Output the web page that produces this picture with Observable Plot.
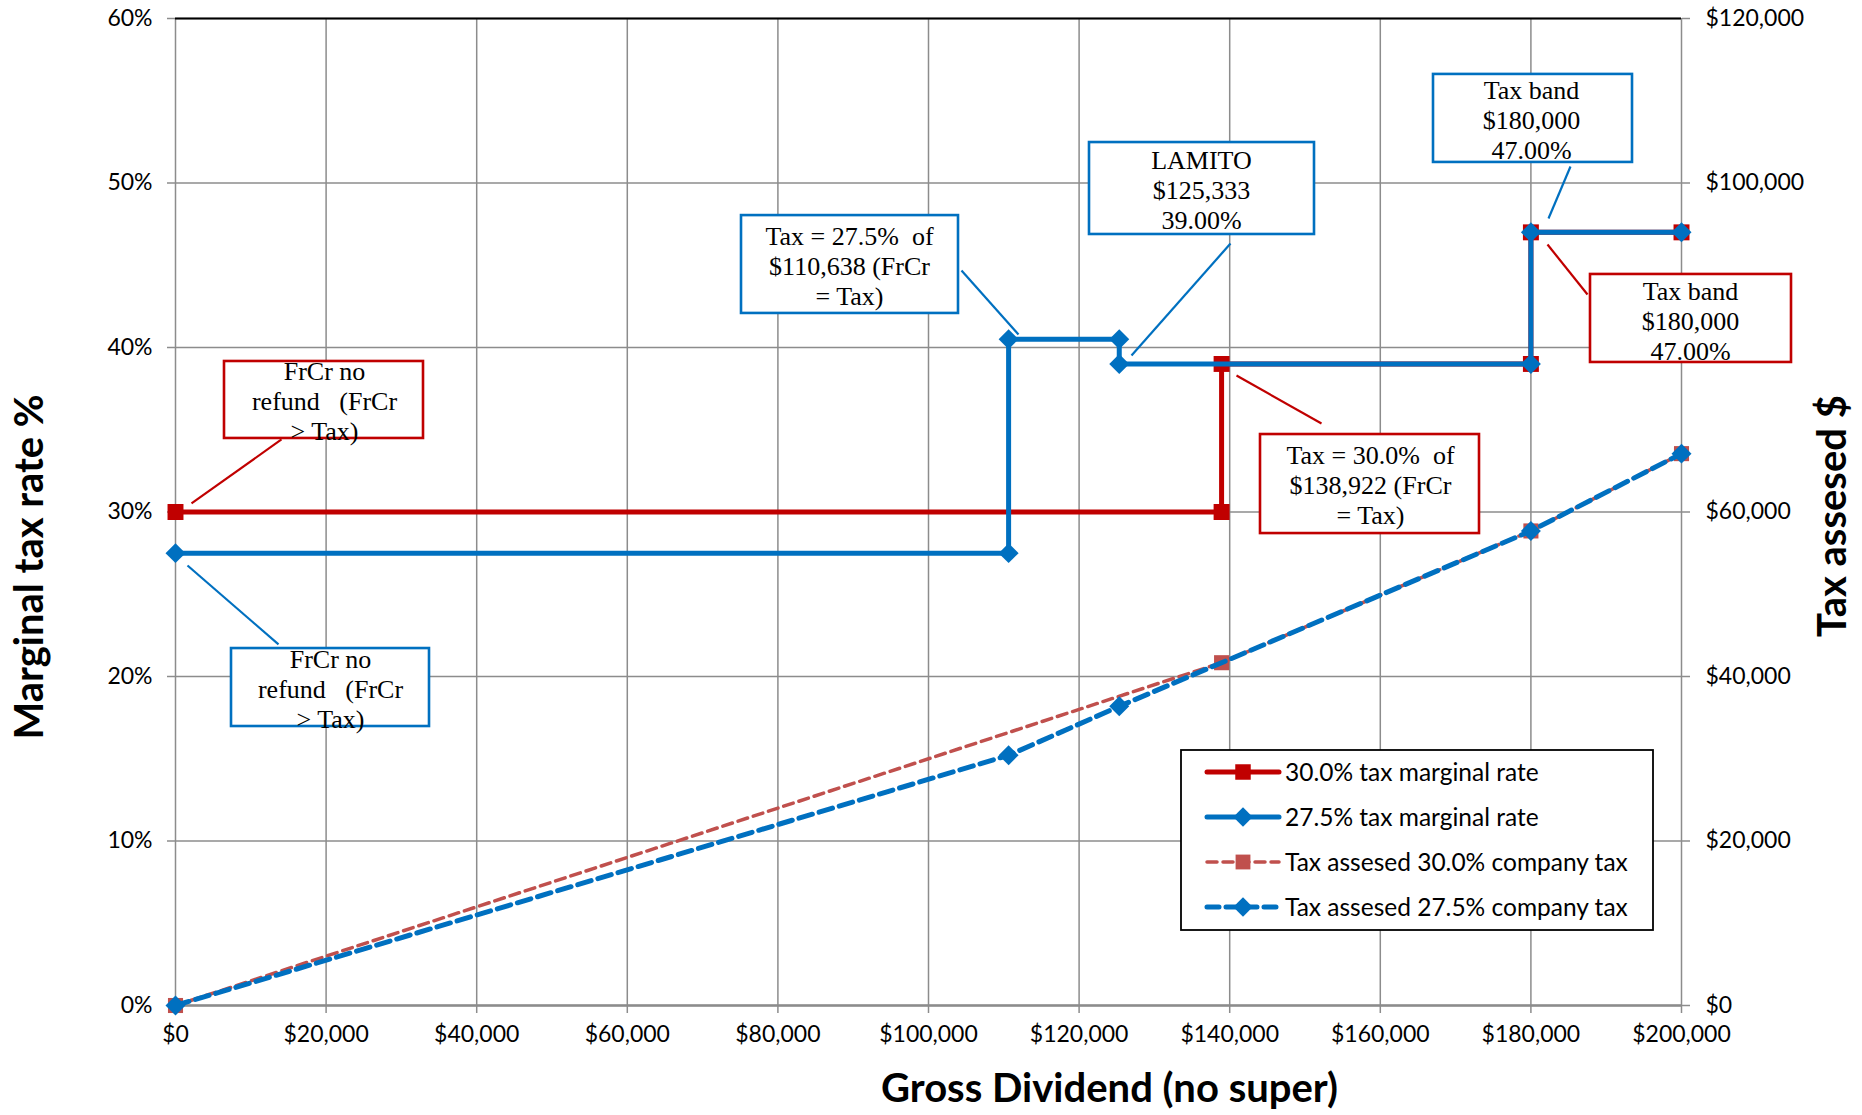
<!DOCTYPE html>
<html><head><meta charset="utf-8">
<script src="https://cdn.jsdelivr.net/npm/d3@7"></script>
<script src="https://cdn.jsdelivr.net/npm/@observablehq/plot@0.6"></script>
<style>
html,body{margin:0;padding:0;background:#fff;}
#chart{width:1862px;height:1115px;position:relative;}
svg text{white-space:pre;}
</style></head><body><div id="chart"></div>
<script>
// ---- tick values ----
const xTicks = [0, 20000, 40000, 60000, 80000, 100000, 120000, 140000, 160000, 180000, 200000];
const leftTicks = [0, 0.1, 0.2, 0.3, 0.4, 0.5, 0.6];
const rightMax = 120000;
// right-axis labels visible in the picture ($80,000 is hidden behind a callout box)
const rightTicks = [0, 20000, 40000, 60000, 100000, 120000];

// ---- series: marginal rates (left axis) ----
const marg30X = [0, 138922, 138922, 180000, 180000, 200000];
const marg30Y = [0.30, 0.30, 0.39, 0.39, 0.47, 0.47];
const marg275X = [0, 110638, 110638, 125333, 125333, 180000, 180000, 200000];
const marg275Y = [0.275, 0.275, 0.405, 0.405, 0.39, 0.39, 0.47, 0.47];

// ---- series: tax assessed in $ (right axis) ----
const tax30X = [0, 138922, 180000, 200000];
const tax30Y = [0, 41677, 57697, 67097];
const tax275X = [0, 110638, 125333, 180000, 200000];
const tax275Y = [0, 30425, 36376, 57697, 67097];

const seriesNames = ["30.0% tax marginal rate", "27.5% tax marginal rate",
  "Tax assesed 30.0% company tax", "Tax assesed 27.5% company tax"];

// ---- annotation texts ----
const annTexts = [
  "FrCr no\nrefund\u00A0\u00A0 (FrCr\n> Tax)",
  "FrCr no\nrefund\u00A0\u00A0 (FrCr\n> Tax)",
  "Tax = 27.5%\u00A0 of\n$110,638 (FrCr\n= Tax)",
  "LAMITO\n$125,333\n39.00%",
  "Tax = 30.0%\u00A0 of\n$138,922 (FrCr\n= Tax)",
  "Tax band\n$180,000\n47.00%",
  "Tax band\n$180,000\n47.00%"
];
const annSeries = [0, 1, 1, 1, 0, 1, 0];

// ---- annotation layout (data units) ----
const annBoxX1 = [6507, 7437, 75166, 121381, 144090, 167065, 187915];
const annBoxX2 = [32935, 33732, 103984, 151262, 173174, 193493, 214608];
const annBoxY1 = [0.3447, 0.1696, 0.4207, 0.4687, 0.2869, 0.5125, 0.3909];
const annBoxY2 = [0.3915, 0.2170, 0.4802, 0.5246, 0.3471, 0.5660, 0.4444];
const annTextX = [19788, 20584, 89509, 136255, 158699, 180080, 201195];
const annTextY = [0.3678, 0.1927, 0.4498, 0.4960, 0.3167, 0.5386, 0.4164];
const annLineX1 = [2125, 1594, 104382, 140106, 140903, 185259, 182205];
const annLineY1 = [0.3052, 0.2675, 0.4468, 0.4632, 0.3830, 0.5100, 0.4626];
const annLineX2 = [14077, 13679, 111952, 126959, 152191, 182337, 187517];
const annLineY2 = [0.3441, 0.2195, 0.4079, 0.3951, 0.3538, 0.4784, 0.4322];

// ---- build tables ----
const RED = "#C00000", BLUE = "#0070C0", LRED = "#C0504D", GRID = "#8c8c8c";
const ratio = rightMax / leftTicks[leftTicks.length - 1];
const zip = (xs, ys) => xs.map((x, i) => ({x, y: ys[i]}));
const m30 = zip(marg30X, marg30Y);
const m275 = zip(marg275X, marg275Y);
const t30 = zip(tax30X, tax30Y.map(v => v / ratio));
const t275 = zip(tax275X, tax275Y.map(v => v / ratio));
const ann = annTexts.map((t, i) => ({
  text: t, color: annSeries[i] === 0 ? RED : BLUE,
  bx1: annBoxX1[i], bx2: annBoxX2[i], by1: annBoxY1[i], by2: annBoxY2[i],
  tx: annTextX[i], ty: annTextY[i],
  lx1: annLineX1[i], ly1: annLineY1[i], lx2: annLineX2[i], ly2: annLineY2[i]
}));
const fmt = d3.format(",");

const plot = Plot.plot({
  width: 1862, height: 1115,
  marginLeft: 175, marginRight: 181, marginTop: 18, marginBottom: 110,
  style: {fontFamily: "Lato, sans-serif", fontSize: "23px", background: "#fff", overflow: "visible"},
  x: {domain: [0, 200000], axis: null},
  y: {domain: [0, 0.6], axis: null},
  marks: [
    Plot.ruleX(xTicks, {stroke: GRID, strokeWidth: 1.5}),
    Plot.ruleY(leftTicks, {stroke: GRID, strokeWidth: 1.5}),
    Plot.ruleY([0], {stroke: GRID, strokeWidth: 2.5}),
    Plot.ruleY([0.6], {stroke: "#000", strokeWidth: 2}),
    Plot.axisY({anchor: "left", ticks: leftTicks, tickFormat: d => Math.round(d * 100) + "%",
      tickSize: 8, tickPadding: 15, stroke: GRID, strokeWidth: 1.5, fill: "#000", fontSize: 23, label: null}),
    Plot.axisY({anchor: "right", ticks: rightTicks.map(v => v / ratio), tickFormat: d => "$" + fmt(Math.round(d * ratio)),
      tickSize: 8, tickPadding: 16, stroke: GRID, strokeWidth: 1.5, fill: "#000", fontSize: 23, label: null}),
    Plot.axisX({anchor: "bottom", ticks: xTicks, tickFormat: d => "$" + fmt(d),
      tickSize: 8, tickPadding: 12, stroke: GRID, strokeWidth: 1.5, fill: "#000", fontSize: 23, label: null}),
    // series
    Plot.line(m30, {x: "x", y: "y", stroke: RED, strokeWidth: 5}),
    Plot.dot(m30, {x: "x", y: "y", symbol: "square", r: 9, fill: RED}),
    Plot.line(m275, {x: "x", y: "y", stroke: BLUE, strokeWidth: 5}),
    Plot.dot(m275, {x: "x", y: "y", symbol: "diamond2", r: 9, fill: BLUE}),
    Plot.line(t30, {x: "x", y: "y", stroke: LRED, strokeWidth: 3.5, strokeDasharray: "10,6"}),
    Plot.dot(t30, {x: "x", y: "y", symbol: "square", r: 8.5, fill: LRED}),
    Plot.line(t275, {x: "x", y: "y", stroke: BLUE, strokeWidth: 5, strokeDasharray: "14,7"}),
    Plot.dot(t275, {x: "x", y: "y", symbol: "diamond2", r: 9, fill: BLUE}),
    // annotations
    Plot.link(ann, {x1: "lx1", y1: "ly1", x2: "lx2", y2: "ly2", stroke: "color", strokeWidth: 2.2}),
    Plot.rect(ann, {x1: "bx1", x2: "bx2", y1: "by1", y2: "by2", fill: "#fff", stroke: "color", strokeWidth: 2.6}),
    Plot.text(ann, {x: "tx", y: "ty", text: "text", fontFamily: "Liberation Serif, Times New Roman, serif",
      fontSize: 26, lineHeight: 1.15, lineAnchor: "middle", fill: "#000"}),
    // axis titles
    Plot.text(["Marginal tax rate %"], {frameAnchor: "left", textAnchor: "middle", dx: -145, dy: 55, rotate: -90,
      fontSize: 40, fontWeight: "bold", fill: "#000"}),
    Plot.text(["Tax assesed $"], {frameAnchor: "right", textAnchor: "middle", dx: 152, dy: 4, rotate: -90,
      fontSize: 40, fontWeight: "bold", fill: "#000"}),
    Plot.text(["Gross Dividend (no super)"], {frameAnchor: "bottom", textAnchor: "middle", dx: 181, dy: 96,
      fontSize: 40, fontWeight: "bold", fill: "#000"})
  ]
});
document.getElementById("chart").appendChild(plot);

// ---- legend (inside the plot frame) ----
const svg = d3.select(plot);
const lg = svg.append("g").attr("font-family", "Lato, sans-serif").attr("font-size", 24.5).attr("text-anchor", "start");
lg.append("rect").attr("x", 1181).attr("y", 750).attr("width", 472).attr("height", 180)
  .attr("fill", "#fff").attr("stroke", "#000").attr("stroke-width", 1.8);
const legStyles = [
  {stroke: RED, width: 5, dash: null, sym: d3.symbolSquare, size: 240, fill: RED},
  {stroke: BLUE, width: 5, dash: null, sym: d3.symbolDiamond2, size: 240, fill: BLUE},
  {stroke: LRED, width: 3.5, dash: "10,6", sym: d3.symbolSquare, size: 220, fill: LRED},
  {stroke: BLUE, width: 5, dash: "12,7", sym: d3.symbolDiamond2, size: 240, fill: BLUE}
];
seriesNames.forEach((name, i) => {
  const y = 772 + i * 45, s = legStyles[i];
  lg.append("line").attr("x1", 1207).attr("x2", 1279).attr("y1", y).attr("y2", y)
    .attr("stroke", s.stroke).attr("stroke-width", s.width).attr("stroke-dasharray", s.dash)
    .attr("stroke-linecap", "round");
  lg.append("path").attr("d", d3.symbol(s.sym, s.size)()).attr("transform", `translate(1243,${y})`).attr("fill", s.fill);
  lg.append("text").attr("x", 1285).attr("y", y).attr("dy", "0.35em").attr("fill", "#000").attr("text-anchor", "start").text(name);
});
</script></body></html>
